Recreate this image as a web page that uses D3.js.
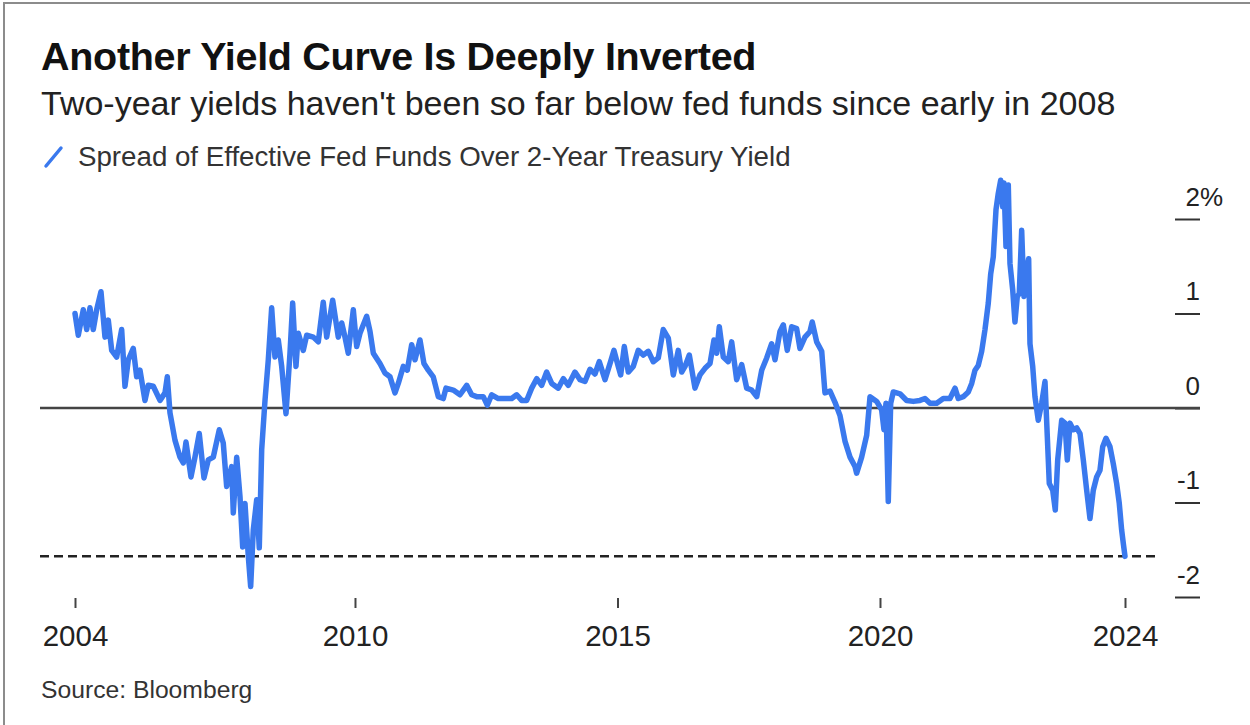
<!DOCTYPE html>
<html>
<head>
<meta charset="utf-8">
<script src="https://cdn.jsdelivr.net/npm/d3@7"></script>
<style>
  html, body { margin: 0; padding: 0; background: #fff; }
  svg { display: block; font-family: "Liberation Sans", Arial, Helvetica, sans-serif; }
</style>
</head>
<body>
<svg id="chart" width="1250" height="725"></svg>
<script>
// Spread of effective fed funds over the 2-year Treasury yield, in percentage points.
// Dates are decimal years.
const years = [
  2004.667, 2004.730, 2004.825, 2004.890, 2004.952, 2005.015, 2005.080, 2005.162, 2005.238, 2005.301,
  2005.366, 2005.461, 2005.556, 2005.619, 2005.682, 2005.777, 2005.842, 2005.905, 2006.000, 2006.063,
  2006.158, 2006.286, 2006.381, 2006.425, 2006.476, 2006.571, 2006.667, 2006.730, 2006.781, 2006.876,
  2006.952, 2007.034, 2007.124, 2007.206, 2007.301, 2007.415, 2007.491, 2007.556, 2007.651, 2007.682,
  2007.747, 2007.810, 2007.861, 2007.905, 2007.968, 2008.013, 2008.063, 2008.128, 2008.177, 2008.223,
  2008.286, 2008.349, 2008.413, 2008.476, 2008.539, 2008.604, 2008.686, 2008.762, 2008.813, 2008.876,
  2008.920, 2009.015, 2009.080, 2009.206, 2009.301, 2009.396, 2009.461, 2009.575, 2009.682, 2009.747,
  2009.810, 2009.872, 2009.968, 2010.032, 2010.095, 2010.223, 2010.286, 2010.349, 2010.476, 2010.571,
  2010.667, 2010.762, 2010.825, 2010.920, 2010.996, 2011.080, 2011.143, 2011.238, 2011.314, 2011.396,
  2011.491, 2011.587, 2011.682, 2011.733, 2011.872, 2012.000, 2012.128, 2012.223, 2012.318, 2012.444,
  2012.520, 2012.604, 2012.730, 2012.857, 2012.985, 2013.080, 2013.175, 2013.270, 2013.366, 2013.461,
  2013.556, 2013.651, 2013.747, 2013.872, 2013.968, 2014.063, 2014.190, 2014.286, 2014.381, 2014.476,
  2014.571, 2014.653, 2014.762, 2014.857, 2014.933, 2015.015, 2015.061, 2015.130, 2015.206, 2015.301,
  2015.396, 2015.491, 2015.587, 2015.682, 2015.777, 2015.872, 2015.968, 2016.063, 2016.158, 2016.223,
  2016.286, 2016.368, 2016.476, 2016.571, 2016.667, 2016.762, 2016.838, 2016.890, 2016.939, 2017.015,
  2017.110, 2017.175, 2017.270, 2017.366, 2017.461, 2017.556, 2017.652, 2017.747, 2017.842, 2017.937,
  2018.000, 2018.095, 2018.159, 2018.234, 2018.318, 2018.413, 2018.476, 2018.571, 2018.667, 2018.710,
  2018.794, 2018.890, 2018.952, 2019.048, 2019.143, 2019.238, 2019.333, 2019.429, 2019.524, 2019.556,
  2019.651, 2019.746, 2019.810, 2019.937, 2020.032, 2020.076, 2020.114, 2020.158, 2020.204, 2020.254,
  2020.381, 2020.508, 2020.634, 2020.762, 2020.857, 2020.952, 2021.080, 2021.206, 2021.333, 2021.429,
  2021.492, 2021.587, 2021.682, 2021.747, 2021.810, 2021.872, 2021.937, 2022.000, 2022.063, 2022.109,
  2022.158, 2022.210, 2022.253, 2022.299, 2022.337, 2022.362, 2022.400, 2022.444, 2022.476, 2022.528,
  2022.571, 2022.615, 2022.653, 2022.699, 2022.743, 2022.794, 2022.832, 2022.857, 2022.909, 2022.952,
  2023.015, 2023.080, 2023.143, 2023.187, 2023.225, 2023.290, 2023.339, 2023.385, 2023.461, 2023.524,
  2023.568, 2023.619, 2023.682, 2023.747, 2023.810, 2023.873, 2023.937, 2024.000, 2024.063, 2024.127,
  2024.190, 2024.242, 2024.305, 2024.381, 2024.444, 2024.508, 2024.558, 2024.603, 2024.634, 2024.667
];

const spread = [
  1.00, 0.77, 1.04, 0.83, 1.06, 0.83, 1.04, 1.23, 0.75, 0.93,
  0.61, 0.54, 0.83, 0.23, 0.51, 0.63, 0.33, 0.40, 0.08, 0.24,
  0.23, 0.08, 0.16, 0.33, -0.05, -0.34, -0.52, -0.58, -0.36, -0.73,
  -0.52, -0.27, -0.74, -0.55, -0.52, -0.23, -0.37, -0.83, -0.62, -1.11,
  -0.52, -0.94, -1.47, -1.01, -1.57, -1.89, -1.29, -0.97, -1.48, -0.44,
  0.08, 0.51, 1.06, 0.54, 0.72, 0.44, -0.06, 0.58, 1.11, 0.44,
  0.79, 0.61, 0.77, 0.75, 0.70, 1.12, 0.75, 1.14, 0.75, 0.90,
  0.75, 0.58, 1.04, 0.65, 0.79, 0.97, 0.81, 0.58, 0.47, 0.37,
  0.33, 0.16, 0.26, 0.44, 0.40, 0.67, 0.51, 0.72, 0.47, 0.40,
  0.33, 0.12, 0.10, 0.21, 0.19, 0.14, 0.24, 0.14, 0.12, 0.12,
  0.03, 0.14, 0.10, 0.10, 0.10, 0.14, 0.08, 0.08, 0.21, 0.31,
  0.24, 0.38, 0.26, 0.21, 0.31, 0.24, 0.38, 0.30, 0.28, 0.41,
  0.36, 0.49, 0.30, 0.47, 0.61, 0.44, 0.35, 0.65, 0.38, 0.44,
  0.61, 0.56, 0.60, 0.49, 0.53, 0.83, 0.74, 0.35, 0.61, 0.38,
  0.44, 0.56, 0.21, 0.35, 0.42, 0.47, 0.72, 0.58, 0.86, 0.54,
  0.49, 0.70, 0.30, 0.46, 0.21, 0.19, 0.12, 0.40, 0.53, 0.68,
  0.51, 0.81, 0.88, 0.61, 0.86, 0.84, 0.63, 0.75, 0.81, 0.91,
  0.70, 0.60, 0.16, 0.18, 0.06, -0.08, -0.35, -0.52, -0.62, -0.69,
  -0.52, -0.29, 0.12, 0.07, -0.02, -0.23, 0.05, -0.99, 0.05, 0.17,
  0.15, 0.08, 0.07, 0.08, 0.10, 0.05, 0.05, 0.10, 0.10, 0.21,
  0.10, 0.12, 0.17, 0.26, 0.40, 0.45, 0.60, 0.83, 1.11, 1.42,
  1.60, 2.10, 2.27, 2.41, 2.13, 2.38, 1.71, 2.36, 1.53, 1.25,
  0.91, 1.18, 1.21, 1.88, 1.18, 1.46, 1.58, 0.68, 0.44, 0.12,
  -0.13, 0.05, 0.28, -0.30, -0.80, -0.87, -1.08, -0.55, -0.13, -0.16,
  -0.55, -0.16, -0.23, -0.21, -0.27, -0.55, -0.87, -1.17, -0.87, -0.73,
  -0.66, -0.41, -0.32, -0.41, -0.59, -0.80, -1.01, -1.29, -1.43, -1.57
];

const yTicks = [-2, -1, 0, 1, 2];
const xTickValues = [years[0], 2010, 2015, 2020, years[years.length - 1]];
const xTickLabels = ["2004", "2010", "2015", "2020", "2024"];

const titleText = "Another Yield Curve Is Deeply Inverted";
const subtitleText = "Two-year yields haven't been so far below fed funds since early in 2008";
const legendText = "Spread of Effective Fed Funds Over 2-Year Treasury Yield";
const sourceText = "Source: Bloomberg";

const BLUE = "#3a79ee";
const data = years.map((t, i) => ({ t, v: spread[i] }));
const latest = data[data.length - 1].v;

const svg = d3.select("#chart");

// frame
svg.append("rect")
  .attr("x", 4).attr("y", 3).attr("width", 1300).attr("height", 800)
  .attr("fill", "none").attr("stroke", "#8c8c8c").attr("stroke-width", 2);

// headings
svg.append("text").attr("x", 41).attr("y", 70)
  .attr("font-size", 39.5).attr("font-weight", "bold").attr("fill", "#111")
  .attr("letter-spacing", -0.3)
  .text(titleText);

svg.append("text").attr("x", 41).attr("y", 115)
  .attr("font-size", 34).attr("fill", "#222")
  .text(subtitleText);

// legend
svg.append("line")
  .attr("x1", 46).attr("y1", 166).attr("x2", 61).attr("y2", 148)
  .attr("stroke", BLUE).attr("stroke-width", 3.5).attr("stroke-linecap", "round");
svg.append("text").attr("x", 78).attr("y", 166)
  .attr("font-size", 27.7).attr("fill", "#333")
  .text(legendText);

// scales
const x = d3.scaleLinear().domain([years[0], years[years.length - 1]]).range([75, 1125]);
const y = d3.scaleLinear().domain([-2, 2]).range([597, 219]);

// right-hand value axis
const yAxis = svg.append("g")
  .attr("transform", "translate(1175,0)")
  .call(d3.axisRight(y).tickValues(yTicks).tickSize(25).tickFormat(d3.format("d")));
yAxis.select(".domain").remove();
yAxis.selectAll(".tick line").attr("stroke", "#333").attr("stroke-width", 2);
yAxis.selectAll(".tick text")
  .attr("x", 25).attr("y", -14).attr("dy", null)
  .attr("text-anchor", "end")
  .attr("font-size", 26).attr("fill", "#222")
  .text(d => d < 0 ? "-" + Math.abs(d) : String(d));
yAxis.selectAll(".tick").filter(d => d === d3.max(yTicks))
  .append("text")
  .attr("x", 25).attr("y", -14)
  .attr("text-anchor", "start")
  .attr("font-size", 26).attr("fill", "#222")
  .text("%");

// zero line
svg.append("line")
  .attr("x1", 40).attr("x2", 1200)
  .attr("y1", y(0)).attr("y2", y(0))
  .attr("stroke", "#444").attr("stroke-width", 2.5);

// latest-level reference
svg.append("line")
  .attr("x1", 40).attr("x2", 1158)
  .attr("y1", y(latest)).attr("y2", y(latest))
  .attr("stroke", "#222").attr("stroke-width", 2.5)
  .attr("stroke-dasharray", "9,5");

// time axis
const xAxis = svg.append("g")
  .attr("transform", "translate(0,598)")
  .call(d3.axisBottom(x).tickValues(xTickValues).tickSize(10)
    .tickFormat((d, i) => xTickLabels[i]));
xAxis.select(".domain").remove();
xAxis.selectAll(".tick line").attr("stroke", "#444").attr("stroke-width", 2);
xAxis.selectAll(".tick text")
  .attr("y", 48).attr("dy", null)
  .attr("font-size", 29.5).attr("fill", "#222");

// series
const line = d3.line().x(d => x(d.t)).y(d => y(d.v)).curve(d3.curveLinear);
svg.append("path")
  .datum(data)
  .attr("d", line)
  .attr("fill", "none")
  .attr("stroke", BLUE)
  .attr("stroke-width", 5.5)
  .attr("stroke-linejoin", "round")
  .attr("stroke-linecap", "round");

// source
svg.append("text").attr("x", 41).attr("y", 698)
  .attr("font-size", 24.7).attr("fill", "#333")
  .text(sourceText);
</script>
</body>
</html>
